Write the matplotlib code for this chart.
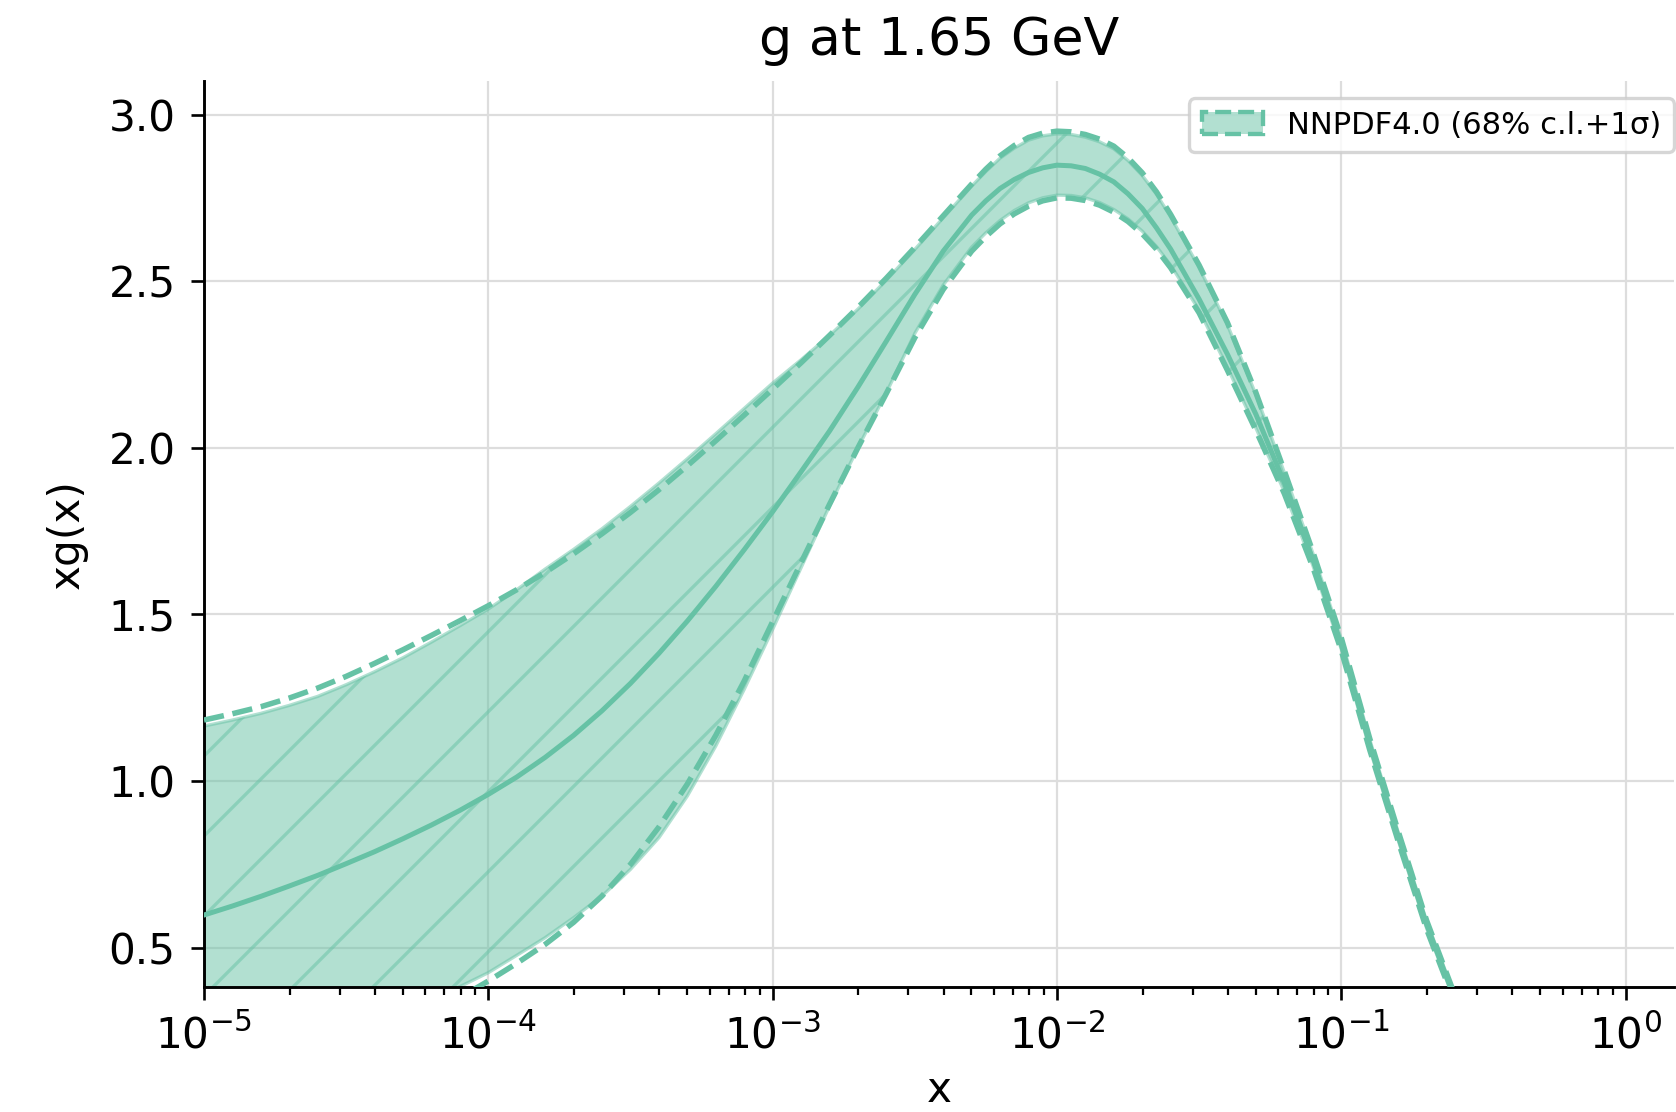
import numpy as np
import matplotlib
matplotlib.use('Agg')
import matplotlib.pyplot as plt
import matplotlib.patches as mpatches

# x grid (log10 x)
log10_x = [-5.0, -4.9, -4.8, -4.7, -4.6, -4.5, -4.4, -4.3, -4.2, -4.1,
           -4.0, -3.9, -3.8, -3.7, -3.6, -3.5, -3.4, -3.3, -3.2, -3.1,
           -3.0, -2.9, -2.8, -2.7, -2.6, -2.5, -2.4, -2.3, -2.25, -2.2,
           -2.15, -2.1, -2.05, -2.0, -1.95, -1.9, -1.85, -1.8, -1.75, -1.7,
           -1.65, -1.6, -1.5, -1.4, -1.3, -1.2, -1.1,
           -1.0, -0.9, -0.8, -0.7, -0.6]

# central value xg(x)
central = [0.598, 0.625, 0.654, 0.685, 0.717, 0.752, 0.788, 0.827, 0.868, 0.912,
           0.960, 1.012, 1.071, 1.137, 1.211, 1.293, 1.383, 1.480, 1.584, 1.694,
           1.808, 1.928, 2.050, 2.182, 2.320, 2.460, 2.590, 2.698, 2.741, 2.778,
           2.805, 2.826, 2.840, 2.848, 2.846, 2.838, 2.821, 2.798, 2.762, 2.718,
           2.660, 2.596, 2.446, 2.280, 2.100, 1.895, 1.665,
           1.410, 1.110, 0.835, 0.570, 0.345]

# 68% c.l. band
cl68_up = [1.165, 1.183, 1.203, 1.227, 1.254, 1.289, 1.328, 1.370, 1.417, 1.466,
           1.516, 1.574, 1.636, 1.695, 1.757, 1.824, 1.894, 1.967, 2.042, 2.118,
           2.194, 2.264, 2.337, 2.416, 2.503, 2.595, 2.690, 2.785, 2.829, 2.869,
           2.899, 2.923, 2.936, 2.942, 2.940, 2.932, 2.918, 2.897, 2.862, 2.817,
           2.761, 2.693, 2.541, 2.368, 2.159, 1.925, 1.684,
           1.427, 1.125, 0.847, 0.580, 0.354]
cl68_down = [0.080, 0.110, 0.140, 0.170, 0.200, 0.230, 0.260, 0.300, 0.340, 0.383,
             0.425, 0.477, 0.530, 0.590, 0.655, 0.735, 0.830, 0.955, 1.105, 1.275,
             1.455, 1.640, 1.825, 2.000, 2.165, 2.343, 2.488, 2.602, 2.645, 2.682,
             2.712, 2.735, 2.750, 2.758, 2.757, 2.750, 2.736, 2.715, 2.687, 2.650,
             2.604, 2.548, 2.413, 2.240, 2.059, 1.868, 1.647,
             1.396, 1.097, 0.823, 0.559, 0.337]

# 1 sigma lines
sigma_up = [1.183, 1.202, 1.223, 1.249, 1.279, 1.314, 1.353, 1.394, 1.437, 1.481,
            1.526, 1.574, 1.626, 1.682, 1.742, 1.806, 1.874, 1.946, 2.021, 2.098,
            2.176, 2.255, 2.337, 2.421, 2.509, 2.601, 2.696, 2.791, 2.836, 2.876,
            2.907, 2.931, 2.944, 2.950, 2.948, 2.940, 2.926, 2.905, 2.870, 2.825,
            2.768, 2.700, 2.548, 2.375, 2.165, 1.930, 1.688,
            1.430, 1.128, 0.850, 0.582, 0.356]
sigma_down = [0.020, 0.050, 0.080, 0.110, 0.140, 0.175, 0.210, 0.253, 0.300, 0.350,
              0.400, 0.453, 0.510, 0.576, 0.655, 0.750, 0.862, 0.991, 1.137, 1.300,
              1.478, 1.655, 1.830, 2.000, 2.163, 2.330, 2.475, 2.590, 2.634, 2.672,
              2.702, 2.725, 2.741, 2.750, 2.749, 2.742, 2.728, 2.707, 2.679, 2.642,
              2.596, 2.540, 2.405, 2.232, 2.052, 1.862, 1.642,
              1.392, 1.094, 0.820, 0.556, 0.334]

yticks = [0.5, 1.0, 1.5, 2.0, 2.5, 3.0]
label = 'NNPDF4.0 (68% c.l.+1σ)'
color = '#66c2a5'

xgrid = 10.0 ** np.array(log10_x)

fig = plt.figure(figsize=(1676 / 240, 1112 / 240), dpi=240)
ax = fig.add_axes([0.1217, 0.1127, 0.8771, 0.8143])

ax.fill_between(xgrid, cl68_down, cl68_up, facecolor=color, edgecolor=color,
                alpha=0.5, hatch='/', linewidth=1.0, zorder=2)
ax.plot(xgrid, central, color=color, linewidth=1.5, zorder=3)
ax.plot(xgrid, sigma_up, color=color, linestyle='--', linewidth=1.65, zorder=3)
ax.plot(xgrid, sigma_down, color=color, linestyle='--', linewidth=1.65, zorder=3)

ax.set_xscale('log')
ax.set_xlim(1e-5, 1.48)
ax.set_ylim(0.383, 3.1)
ax.set_yticks(yticks)

ax.grid(True, which='major', color='#dddddd', linewidth=0.67, zorder=0)
ax.set_axisbelow(True)
for side in ['top', 'right']:
    ax.spines[side].set_visible(False)
for side in ['left', 'bottom']:
    ax.spines[side].set_linewidth(0.87)
ax.tick_params(which='major', labelsize=12.7, length=4, width=0.8, pad=4.5)
ax.tick_params(which='minor', length=2.3, width=0.67)

ax.set_title('g at 1.65 GeV', fontsize=15.7, pad=8)
ax.set_xlabel('x', fontsize=12.7, labelpad=3.5)
ax.set_ylabel('xg(x)', fontsize=12.7, labelpad=6.3)

handle = mpatches.Patch(facecolor=(0.4, 0.76, 0.647, 0.5), edgecolor=color,
                        linestyle='--', linewidth=1.3)
ax.legend([handle], [label], loc='upper right', bbox_to_anchor=(1.0, 0.981),
          borderaxespad=0, fontsize=9.2, edgecolor='#cccccc', fancybox=True)

fig.savefig('out.png', dpi=240)
